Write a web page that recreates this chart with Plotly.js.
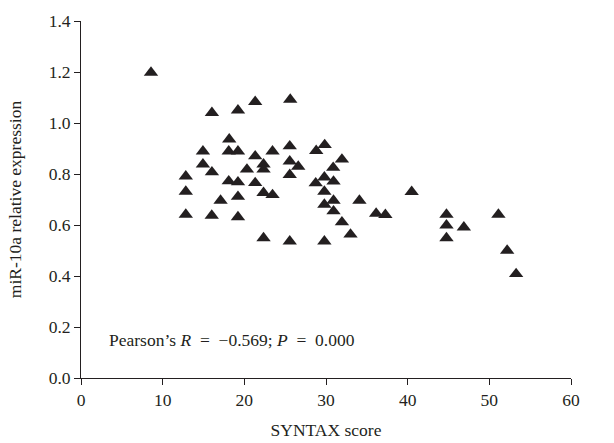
<!DOCTYPE html>
<html>
<head>
<meta charset="utf-8">
<script src="https://cdn.plot.ly/plotly-3.0.1.min.js"></script>
<style>html,body{margin:0;padding:0;background:#fff;}#chart{width:614px;height:443px;}</style>
</head>
<body>
<div id="chart"></div>
<script>
// SYNTAX score (x) and miR-10a relative expression (y)
const syntaxScore = [8.57, 16.03, 19.22, 21.33, 25.62, 18.15, 14.93, 18.09, 19.22, 21.33,
  23.45, 25.56, 14.93, 16.03, 20.32, 22.35, 22.35, 25.56, 25.56, 12.83,
  18.09, 19.22, 21.33, 12.83, 17.09, 19.22, 22.35, 23.45, 12.83, 16.01,
  19.22, 22.35, 25.56, 26.60, 28.80, 29.84, 31.95, 30.88, 28.74, 29.80,
  30.92, 29.80, 30.92, 29.80, 30.92, 31.95, 34.09, 33.00, 29.80, 36.14,
  37.27, 40.49, 44.75, 44.75, 44.75, 46.88, 51.11, 52.18, 53.28];
const mirExpression = [1.198, 1.040, 1.050, 1.083, 1.092, 0.936, 0.889, 0.889, 0.889, 0.870,
  0.889, 0.909, 0.838, 0.807, 0.818, 0.838, 0.818, 0.850, 0.797, 0.791,
  0.772, 0.768, 0.765, 0.731, 0.696, 0.711, 0.726, 0.718, 0.641, 0.637,
  0.631, 0.549, 0.536, 0.829, 0.891, 0.914, 0.857, 0.825, 0.764, 0.787,
  0.771, 0.731, 0.696, 0.680, 0.654, 0.611, 0.696, 0.563, 0.536, 0.645,
  0.640, 0.730, 0.641, 0.599, 0.549, 0.591, 0.641, 0.500, 0.408];
const xTicks = [0, 10, 20, 30, 40, 50, 60];
const yTicks = [0, 0.2, 0.4, 0.6, 0.8, 1.0, 1.2, 1.4];
const yTickLabels = ["0.0", "0.2", "0.4", "0.6", "0.8", "1.0", "1.2", "1.4"];

const ink = '#231f20';
const font = {family: '"Liberation Serif", "DejaVu Serif", serif', size: 17.5, color: ink};

const trace = {
  x: syntaxScore, y: mirExpression, type: 'scatter', mode: 'markers',
  marker: {symbol: 'triangle-up', size: 12.5, color: ink, line: {width: 0}},
  hoverinfo: 'x+y', showlegend: false
};

const axisCommon = {
  showgrid: false, zeroline: false, showline: true, linecolor: ink, linewidth: 1,
  ticks: 'outside', ticklen: 6, tickwidth: 1, tickcolor: ink, tickfont: font, mirror: false
};

const layout = {
  width: 614, height: 443,
  margin: {l: 81, r: 43, t: 21, b: 65},
  paper_bgcolor: '#fff', plot_bgcolor: '#fff',
  font: font,
  xaxis: Object.assign({}, axisCommon, {
    range: [0, 60], tickmode: 'array', tickvals: xTicks,
    title: {text: 'SYNTAX score', font: font, standoff: 14}
  }),
  yaxis: Object.assign({}, axisCommon, {
    range: [0, 1.4], tickmode: 'array', tickvals: yTicks, ticktext: yTickLabels,
    title: {text: 'miR-10a relative expression', font: font, standoff: 22}
  }),
  annotations: [{
    xref: 'paper', yref: 'paper', x: 0.053, y: 0.107, xanchor: 'left', yanchor: 'middle',
    text: 'Pearson’s <i>R</i>&nbsp;&nbsp;=&nbsp;&nbsp;−0.569; <i>P</i>&nbsp;&nbsp;=&nbsp;&nbsp;0.000',
    showarrow: false, font: font
  }]
};

Plotly.newPlot('chart', [trace], layout, {displayModeBar: false, staticPlot: true});
</script>
</body>
</html>
